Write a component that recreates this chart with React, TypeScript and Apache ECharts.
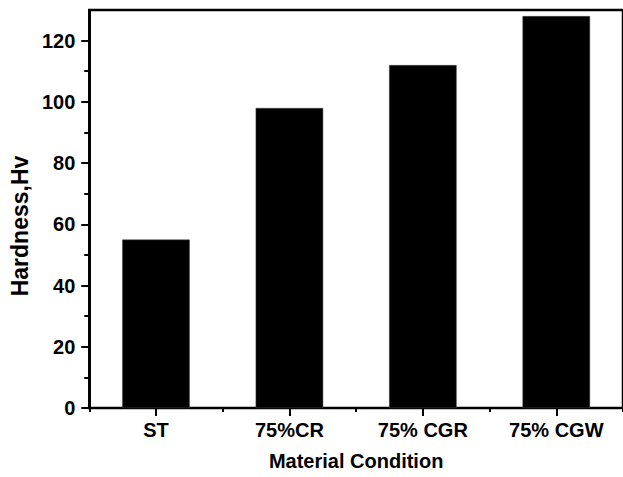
import React, { useEffect, useRef } from "react";
import * as echarts from "echarts";

// Vickers hardness by material condition
const categories = ["ST", "75%CR", "75% CGR", "75% CGW"];
const hardness = [55, 98, 112, 128];
const yMajorTicks = [0, 20, 40, 60, 80, 100, 120];
const yMinorTicks = [10, 30, 50, 70, 90, 110];
const yMax = 130;

const FONT = '"Liberation Sans", Arial, Helvetica, sans-serif';

export default function App() {
  const ref = useRef<HTMLDivElement>(null);

  useEffect(() => {
    document.body.style.margin = "0";
    const chart = echarts.init(ref.current!, null, { renderer: "svg" });
    const black = { color: "#000", width: 2 };
    const tickLabel = {
      color: "#000",
      fontFamily: FONT,
      fontWeight: "bold" as const,
      fontSize: 20,
    };

    chart.setOption({
      animation: false,
      grid: {
        left: 89,
        right: -3,
        top: 10,
        bottom: 69,
        show: true,
        borderColor: "#000",
        borderWidth: 2.5,
        backgroundColor: "transparent",
      },
      xAxis: [
        {
          type: "category",
          data: categories,
          position: "bottom",
          axisLine: { show: true, lineStyle: black },
          axisTick: { show: true, alignWithLabel: true, length: 8, lineStyle: black },
          axisLabel: { ...tickLabel, margin: 12 },
          splitLine: { show: false },
          name: "Material Condition",
          nameLocation: "middle",
          nameGap: 43,
          nameTextStyle: {
            color: "#000",
            fontFamily: FONT,
            fontWeight: "bold",
            fontSize: 20,
          },
        },
        {
          // short ticks on the category boundaries
          type: "category",
          data: categories,
          position: "bottom",
          axisLine: { show: false },
          axisTick: { show: true, length: 4, lineStyle: black },
          axisLabel: { show: false },
          splitLine: { show: false },
        },
      ],
      yAxis: [
        {
          type: "value",
          min: 0,
          max: yMax,
          interval: 20,
          position: "left",
          axisLine: { show: true, lineStyle: black },
          axisTick: { show: true, customValues: yMajorTicks, length: 8, lineStyle: black },
          axisLabel: { ...tickLabel, customValues: yMajorTicks, margin: 14 },
          splitLine: { show: false },
          name: "Hardness,Hv",
          nameLocation: "middle",
          nameGap: 58,
          nameTextStyle: {
            color: "#000",
            fontFamily: FONT,
            fontWeight: "bold",
            fontSize: 23,
            padding: [0, 34, 0, 0],
          },
        },
        {
          // minor ticks between the labelled values
          type: "value",
          min: 0,
          max: yMax,
          interval: 10,
          position: "left",
          axisLine: { show: false },
          axisTick: { show: true, customValues: yMinorTicks, length: 5, lineStyle: black },
          axisLabel: { show: false },
          splitLine: { show: false },
        },
      ],
      series: [
        {
          type: "bar",
          data: hardness,
          xAxisIndex: 0,
          yAxisIndex: 0,
          barWidth: "50.6%",
          itemStyle: { color: "#000", borderColor: "#444", borderWidth: 0.5 },
        },
      ],
    });

    return () => chart.dispose();
  }, []);

  return <div ref={ref} style={{ width: 623, height: 477 }} />;
}
